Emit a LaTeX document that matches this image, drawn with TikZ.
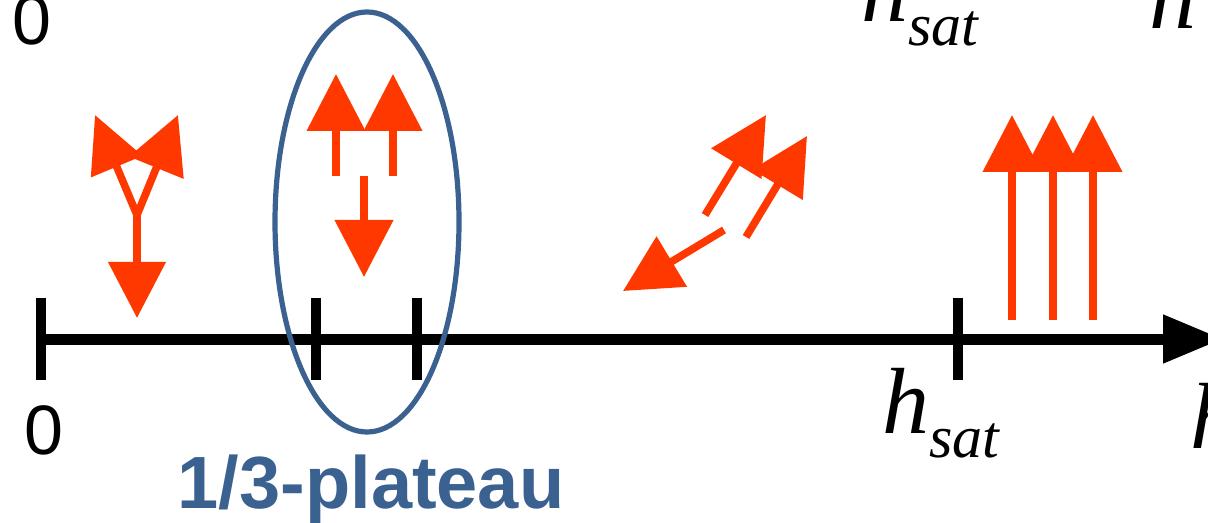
\documentclass[tikz,border=0pt]{standalone}
\usepackage{fontspec}
\setmainfont{Liberation Serif}
\newfontfamily\helv{Liberation Sans}
\usetikzlibrary{arrows.meta}
\definecolor{spinred}{RGB}{255,56,0}
\definecolor{plateaublue}{RGB}{58,97,144}
\newcommand\hsatlabel{\fontsize{47}{47}\selectfont\textit{h}\raisebox{-12pt}{\fontsize{30}{30}\selectfont\textit{sat}}}
\newcommand\hlabel{\fontsize{47}{47}\selectfont\textit{h}}
\tikzset{
  spin/.style={draw=spinred, line width=3.8pt, -{Triangle[length=28.5pt,width=28.5pt]}, spinred},
  spinboth/.style={draw=spinred, line width=3.8pt, {Triangle[length=28pt,width=27pt]}-{Triangle[length=28pt,width=28pt]}, spinred},
  axisline/.style={line width=5.5pt, -{Triangle[length=30pt,width=23pt]}},
  tickmark/.style={line width=5pt},
  digit/.style={font=\helv\fontsize{35}{35}\selectfont, inner sep=0, anchor=base},
  hlab/.style={inner sep=0, anchor=base west},
  plateau/.style={draw=plateaublue, line width=2.6pt},
  plateaulab/.style={font=\helv\bfseries\fontsize{37}{37}\selectfont, text=plateaublue, inner sep=0, anchor=base}
}
\begin{document}
\begin{tikzpicture}[x=0.5pt,y=-0.5pt]
\useasboundingbox (0,0) rectangle (1208,523);
\clip (0,0) rectangle (1208,523);
% axis
\coordinate (axs) at (41,339);
\coordinate (axe) at (1223,339);
\draw[axisline] (axs) -- (axe);
\foreach \tx/\nm in {41/t0,316/t1,417/t2,958/t3}{
  \coordinate (\nm a) at (\tx,298);
  \coordinate (\nm b) at (\tx,380);
  \draw[tickmark] (\nm a) -- (\nm b);
}
% labels
\node[digit] (zeroTop) at (31.5,45) {0};
\node[digit] (zeroBot) at (43.5,454) {0};
\node[hlab] (hsatTop) at (861,22) {\hsatlabel};
\node[hlab] (hTop) at (1149,29) {\hlabel};
\node[hlab] (hsatBot) at (882,433) {\hsatlabel};
\node[hlab] (hBot) at (1190,448) {\hlabel};
\node[plateaulab] (plat) at (371,508) {1/3-plateau};
% ellipse
\coordinate (ellc) at (367,222);
\draw[plateau] (ellc) ellipse [x radius=46pt, y radius=105pt];
% Y-state arrows
\coordinate (yj) at (137,215);
\coordinate (yl) at (95,115);
\coordinate (yr) at (178,115);
\coordinate (yd) at (137,318);
\draw[spinboth] (yl) -- (yj) -- (yd);
\draw[spin] (yj) -- (yr);
% plateau arrows
\coordinate (p1s) at (336,176); \coordinate (p1e) at (336,74);
\coordinate (p2s) at (393,176); \coordinate (p2e) at (393,74);
\coordinate (p3s) at (364,176); \coordinate (p3e) at (364,277);
\draw[spin] (p1s) -- (p1e);
\draw[spin] (p2s) -- (p2e);
\draw[spin] (p3s) -- (p3e);
% canted arrows
\coordinate (c1s) at (705,215); \coordinate (c1e) at (766,115);
\coordinate (c2s) at (746,237); \coordinate (c2e) at (807,136);
\coordinate (c3s) at (724,230); \coordinate (c3e) at (623,291);
\draw[spin] (c1s) -- (c1e);
\draw[spin] (c2s) -- (c2e);
\draw[spin] (c3s) -- (c3e);
% saturated arrows
\foreach \sx/\nm in {1012/s1,1053/s2,1093/s3}{
  \coordinate (\nm s) at (\sx,320);
  \coordinate (\nm e) at (\sx,115);
  \draw[spin] (\nm s) -- (\nm e);
}
\end{tikzpicture}
\end{document}
